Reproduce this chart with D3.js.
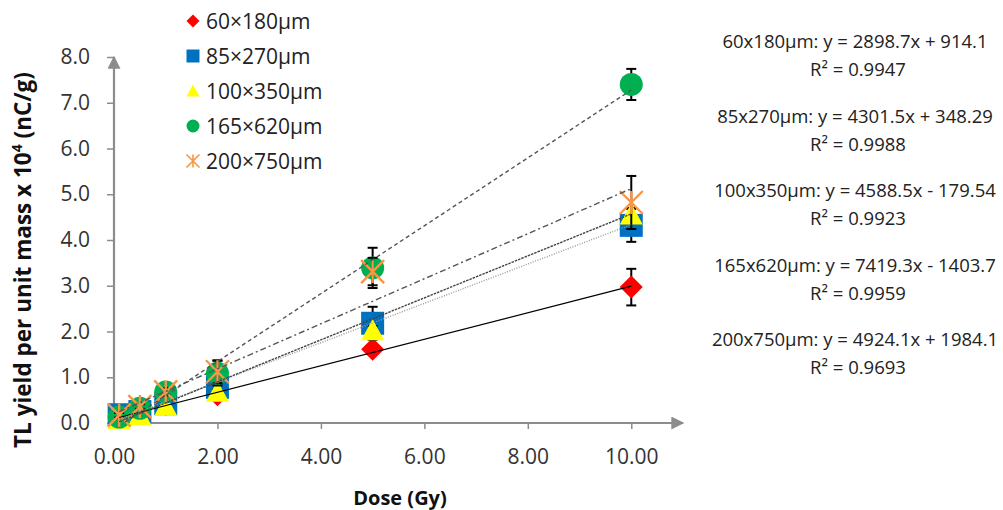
<!DOCTYPE html>
<html>
<head>
<meta charset="utf-8">
<script src="https://cdn.jsdelivr.net/npm/d3@7"></script>
<style>
  body { margin: 0; background: #fff; }
  svg { display: block; font-family: "Open Sans", sans-serif; }
</style>
</head>
<body>
<div id="chart"></div>
<script>
// Dose values (Gy)
var doses = [0.1, 0.5, 1, 2, 5, 10];

// Series names, as in the legend
var names = ["60×180µm", "85×270µm", "100×350µm", "165×620µm", "200×750µm"];

// TL yield per unit mass (x 10^4 nC/g)
var tl60 = [0.15, 0.20, 0.40, 0.62, 1.61, 2.97];
var tl85 = [0.18, 0.25, 0.42, 0.78, 2.18, 4.32];
var tl100 = [0.08, 0.17, 0.37, 0.68, 2.02, 4.55];
var tl165 = [0.13, 0.32, 0.68, 1.09, 3.39, 7.40];
var tl200 = [0.17, 0.36, 0.68, 1.12, 3.31, 4.82];

// Error bar half-heights
var err60 = [0.05, 0.03, 0.03, 0.05, 0.05, 0.40];
var err85 = [0.05, 0.03, 0.03, 0.05, 0.36, 0.36];
var err100 = [0.03, 0.03, 0.03, 0.05, 0.10, 0.15];
var err165 = [0.05, 0.05, 0.08, 0.27, 0.44, 0.34];
var err200 = [0.05, 0.05, 0.08, 0.25, 0.30, 0.58];

// Linear fits (slope, intercept in nC/g) and R²
var slopes = [2898.7, 4301.5, 4588.5, 7419.3, 4924.1];
var intercepts = [914.1, 348.29, -179.54, -1403.7, 1984.1];
var r2 = ["0.9947", "0.9988", "0.9923", "0.9959", "0.9693"];
var eqNames = ["60x180µm", "85x270µm", "100x350µm", "165x620µm", "200x750µm"];

var xTicks = [0, 2, 4, 6, 8, 10];
var yTicks = [0, 1, 2, 3, 4, 5, 6, 7, 8];

var colors = ["#ff0000", "#0070c0", "#ffff00", "#00b050", "#f79646"];
var values = [tl60, tl85, tl100, tl165, tl200];
var errors = [err60, err85, err100, err165, err200];
var dashes = [null, "1,1.5", "2.5,1", "4,3", "6,3,2,3"];
var lineColors = ["#000", "#999", "#444", "#555", "#555"];

var width = 1003, height = 510;
var axisColor = "#8c8c8c";

var svg = d3.select("#chart")
  .append("svg")
    .attr("width", width)
    .attr("height", height);

var x = d3.scaleLinear()
    .domain([0, 11])
    .range([114, 683]);

var y = d3.scaleLinear()
    .domain([0, 8])
    .range([423, 57]);

// arrow heads for the axes
var defs = svg.append("defs");
defs.append("marker")
    .attr("id", "arrow")
    .attr("viewBox", "0 0 10 10")
    .attr("refX", 9)
    .attr("refY", 5)
    .attr("markerUnits", "userSpaceOnUse")
    .attr("markerWidth", 15)
    .attr("markerHeight", 13)
    .attr("orient", "auto")
  .append("path")
    .attr("d", "M0,0L10,5L0,10Z")
    .attr("fill", axisColor);

defs.append("clipPath")
    .attr("id", "plotclip")
  .append("rect")
    .attr("x", x(0))
    .attr("y", y(8))
    .attr("width", x(11) - x(0))
    .attr("height", y(0) - y(8));

// X axis
var xAxis = svg.append("g")
    .attr("transform", "translate(0," + y(0) + ")")
    .call(d3.axisBottom(x)
      .tickValues(xTicks)
      .tickFormat(d3.format(".2f"))
      .tickSizeOuter(0)
      .tickSize(6)
      .tickPadding(20));

// Y axis
var yAxis = svg.append("g")
    .attr("transform", "translate(" + x(0) + ",0)")
    .call(d3.axisLeft(y)
      .tickValues(yTicks)
      .tickFormat(d3.format(".1f"))
      .tickSizeOuter(0)
      .tickSize(7)
      .tickPadding(17));

[xAxis, yAxis].forEach(function(g) {
  g.select(".domain").remove();
  g.selectAll(".tick line").attr("stroke", axisColor).attr("stroke-width", 1.5);
  g.selectAll(".tick text")
    .attr("fill", "#333")
    .style("font-family", "'Open Sans', sans-serif")
    .style("font-size", "21px");
});

svg.append("line")
    .attr("x1", x(0)).attr("y1", y(0))
    .attr("x2", x(11)).attr("y2", y(0))
    .attr("stroke", axisColor)
    .attr("stroke-width", 2.2)
    .attr("marker-end", "url(#arrow)");

svg.append("line")
    .attr("x1", x(0)).attr("y1", y(0) + 1)
    .attr("x2", x(0)).attr("y2", y(8))
    .attr("stroke", axisColor)
    .attr("stroke-width", 2.2)
    .attr("marker-end", "url(#arrow)");

// Axis titles
svg.append("text")
    .attr("x", 400)
    .attr("y", 505)
    .attr("text-anchor", "middle")
    .attr("font-weight", "bold")
    .attr("font-size", 20)
    .attr("fill", "#111")
    .text("Dose (Gy)");

var yTitle = svg.append("text")
    .attr("transform", "translate(31,260) rotate(-90)")
    .attr("text-anchor", "middle")
    .attr("font-weight", "bold")
    .attr("font-size", 22.5)
    .attr("fill", "#111");
yTitle.append("tspan").text("TL yield per unit mass x 10");
yTitle.append("tspan").attr("dy", -9).attr("font-size", 14).text("4");
yTitle.append("tspan").attr("dy", 9).text(" (nC/g)");

// Marker shapes
function markerPath(i, s) {
  var h = s / 2;
  if (i == 0) return "M0," + (-h) + "L" + h + ",0L0," + h + "L" + (-h) + ",0Z";
  if (i == 1) return "M" + (-h) + "," + (-h) + "H" + h + "V" + h + "H" + (-h) + "Z";
  if (i == 2) return "M0," + (-h) + "L" + h + "," + (h * 0.85) + "L" + (-h) + "," + (h * 0.85) + "Z";
  if (i == 3) return d3.symbol().type(d3.symbolCircle).size(Math.PI * h * h)();
  return "M" + (-h) + "," + (-h) + "L" + h + "," + h + "M" + h + "," + (-h) + "L" + (-h) + "," + h +
         "M0," + (-h) + "V" + h;
}

function styleMarker(sel, i, s) {
  sel.attr("d", markerPath(i, s));
  if (i == 4) {
    sel.attr("fill", "none").attr("stroke", colors[i]).attr("stroke-width", s > 16 ? 2.4 : 1.6);
  } else {
    sel.attr("fill", colors[i]);
  }
}

var plot = svg.append("g");

values.forEach(function(vals, i) {
  var pts = doses.map(function(d, k) { return {x: d, y: vals[k], e: errors[i][k]}; });
  var g = plot.append("g").attr("class", "series");

  // error bars (behind the markers)
  var eb = g.selectAll(".err").data(pts).enter().append("g").attr("class", "err");
  eb.append("line")
      .attr("x1", function(d) { return x(d.x); })
      .attr("x2", function(d) { return x(d.x); })
      .attr("y1", function(d) { return y(d.y - d.e); })
      .attr("y2", function(d) { return y(d.y + d.e); })
      .attr("stroke", "#000").attr("stroke-width", 2);
  [-1, 1].forEach(function(sgn) {
    eb.append("line")
        .attr("x1", function(d) { return x(d.x) - 5; })
        .attr("x2", function(d) { return x(d.x) + 5; })
        .attr("y1", function(d) { return y(d.y + sgn * d.e); })
        .attr("y2", function(d) { return y(d.y + sgn * d.e); })
        .attr("stroke", "#000").attr("stroke-width", 2);
  });

  g.selectAll(".pt").data(pts).enter().append("path")
      .attr("class", "pt")
      .attr("transform", function(d) { return "translate(" + x(d.x) + "," + y(d.y) + ")"; })
      .call(styleMarker, i, 23);
});

// Trend lines on top
var trend = svg.append("g").attr("clip-path", "url(#plotclip)");
slopes.forEach(function(m, i) {
  var ends = d3.extent(doses);
  trend.append("line")
      .attr("x1", x(ends[0]))
      .attr("y1", y((m * ends[0] + intercepts[i]) / 1e4))
      .attr("x2", x(ends[1]))
      .attr("y2", y((m * ends[1] + intercepts[i]) / 1e4))
      .attr("stroke", lineColors[i])
      .attr("stroke-width", i == 0 ? 1.2 : 1.4)
      .attr("stroke-dasharray", dashes[i]);
});

// Legend
var legend = svg.append("g");
names.forEach(function(n, i) {
  var ly = 21 + i * 35;
  legend.append("path")
      .attr("transform", "translate(193," + ly + ")")
      .call(styleMarker, i, 13);
  legend.append("text")
      .attr("x", 206)
      .attr("y", ly + 7.5)
      .attr("font-size", 21)
      .attr("fill", "#222")
      .text(n);
});

// Fit equations
var eqs = svg.append("g").attr("text-anchor", "middle").attr("fill", "#222").attr("font-size", 18.5);
slopes.forEach(function(m, i) {
  var by = 48 + i * 74.5;
  var b = intercepts[i];
  eqs.append("text")
      .attr("x", 855)
      .attr("y", by)
      .text(eqNames[i] + ": y = " + m.toFixed(1) + "x " + (b < 0 ? "- " : "+ ") + Math.abs(b));
  eqs.append("text")
      .attr("x", 858)
      .attr("y", by + 28)
      .text("R² = " + r2[i]);
});
</script>
</body>
</html>
